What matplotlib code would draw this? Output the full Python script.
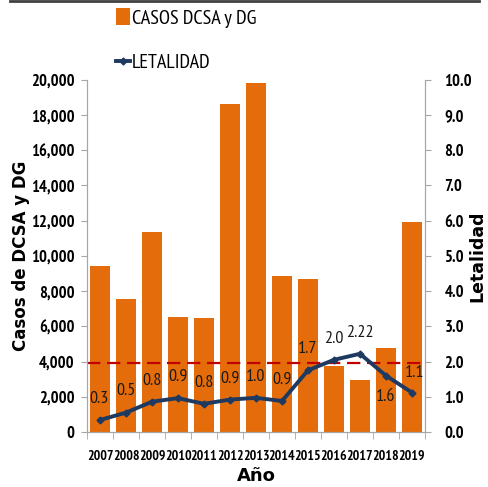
import matplotlib
matplotlib.use('Agg')
import matplotlib.pyplot as plt
from matplotlib.lines import Line2D
import numpy as np

# Datos
anios = ['2007', '2008', '2009', '2010', '2011', '2012', '2013',
         '2014', '2015', '2016', '2017', '2018', '2019']
casos = [9400, 7550, 11350, 6550, 6450, 18650, 19800,
         8850, 8700, 3750, 2950, 4750, 11900]
letalidad = [0.34, 0.55, 0.86, 0.96, 0.80, 0.92, 0.97,
             0.88, 1.75, 2.05, 2.22, 1.60, 1.12]
etiquetas = ['0.3', '0.5', '0.8', '0.9', '0.8', '0.9', '1.0',
             '0.9', '1.7', '2.0', '2.22', '1.6', '1.1']
umbral = 3900

naranja = '#E46C0A'
azul = '#1F3A60'
gris = '#A6A6A6'
estrecha = ['PT Sans Narrow', 'DejaVu Sans']
titulos = ['DejaVu Sans']

fig = plt.figure(figsize=(4.89, 4.87), dpi=100)
ax = fig.add_axes([0.178, 0.113, 0.691, 0.723])
x = np.arange(len(anios))

barras = ax.bar(x, casos, width=0.76, color=naranja, zorder=2)
ax.axhline(umbral, color='#C00000', ls=(0, (6, 3)), lw=1.6, zorder=3)
ax.set_xlim(-0.5, len(anios) - 0.5)
ax.set_ylim(0, 20000)
ax.set_yticks(range(0, 20001, 2000))
ax.set_yticklabels([f'{v:,}' for v in range(0, 20001, 2000)],
                   family=estrecha, fontweight='bold', fontsize=12)
ax.set_xticks(x)
ax.set_xticklabels(anios, family=estrecha, fontweight='bold', fontsize=10)
ax.tick_params(axis='x', length=0, pad=13)
ax.set_xticks(np.arange(-0.5, len(anios), 1), minor=True)
ax.tick_params(axis='x', which='minor', length=5, color=gris)
ax.tick_params(axis='y', length=4, color=gris, pad=5)
ax.spines['top'].set_visible(False)
for s in ['left', 'right', 'bottom']:
    ax.spines[s].set_color(gris)
ax.set_ylabel('Casos de DCSA y DG', family=titulos, fontweight='bold', fontsize=12)
ax.yaxis.set_label_coords(-0.17, 0.5)
ax.set_xlabel('Año', family=titulos, fontweight='bold', fontsize=13, labelpad=3)

ax2 = ax.twinx()
linea, = ax2.plot(x, letalidad, color=azul, lw=2.8, marker='D', markersize=3.5, zorder=4)
ax2.set_ylim(0, 10)
ax2.set_yticks(np.arange(0, 10.1, 1))
ax2.set_yticklabels([f'{v:.1f}' for v in np.arange(0, 10.1, 1)],
                    family=estrecha, fontweight='bold', fontsize=12)
ax2.tick_params(axis='y', length=4, color=gris, pad=10)
ax2.spines['top'].set_visible(False)
for s in ['left', 'right', 'bottom']:
    ax2.spines[s].set_color(gris)
ax2.set_ylabel('Letalidad', family=titulos, fontweight='bold', fontsize=12.5)
ax2.yaxis.set_label_coords(1.13, 0.5)

for i, (v, t) in enumerate(zip(letalidad, etiquetas)):
    dy = 0.6
    dx = 0
    if anios[i] == '2018':
        dy = -0.6
    if anios[i] == '2019':
        dy = 0.55
        dx = 0.1
    if anios[i] == '2007':
        dx = -0.05
    ax2.text(i + dx, v + dy, t, ha='center', va='center',
             family=estrecha, fontsize=13, color='#1a1a1a', zorder=5)

# Leyenda
fig.legend([barras, linea], ['CASOS DCSA y DG', 'LETALIDAD'],
           loc='upper left', bbox_to_anchor=(0.2, 1.02), frameon=False,
           prop={'family': estrecha, 'size': 14.5}, labelspacing=1.25,
           handlelength=0.7, handletextpad=0.1, handleheight=0.9)

fig.add_artist(Line2D([0.02, 0.98], [0.997, 0.997], color='#404040', lw=2))

fig.savefig('out.png', dpi=100)
